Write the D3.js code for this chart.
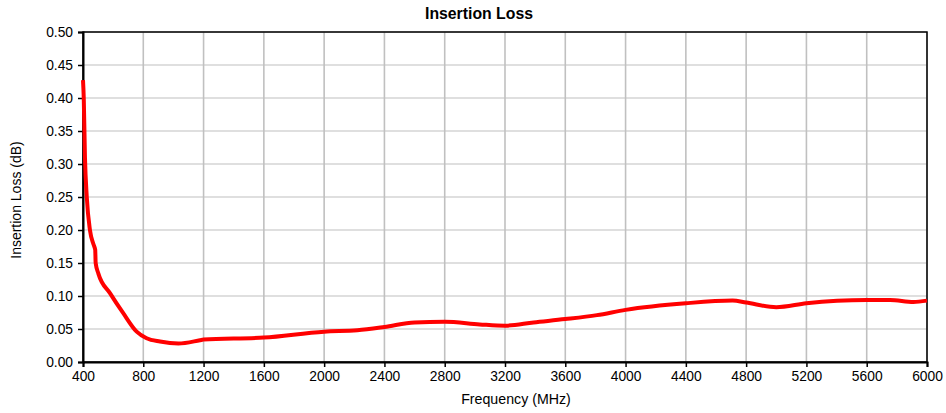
<!DOCTYPE html>
<html>
<head>
<meta charset="utf-8">
<script src="https://cdn.jsdelivr.net/npm/d3@7"></script>
<style>
  body { margin: 0; background: #fff; }
  svg { display: block; font-family: "Liberation Sans", Arial, sans-serif; }
</style>
</head>
<body>
<svg id="chart" width="946" height="413"></svg>
<script>
// Insertion loss curve
const freqMHz = [400, 405, 413, 425, 446, 470, 481, 484, 502, 580, 667, 756, 822, 911, 1033, 1176, 1200, 1600, 2000, 2220, 2400, 2600, 2800, 3032, 3200, 3390, 3600, 3810, 4000, 4400, 4710, 4800, 5000, 5200, 5600, 5755, 5910, 6000];
const lossDb  = [0.427, 0.40, 0.31, 0.25, 0.20, 0.178, 0.170, 0.150, 0.134, 0.104, 0.074, 0.046, 0.036, 0.031, 0.028, 0.033, 0.034, 0.037, 0.046, 0.048, 0.053, 0.060, 0.061, 0.057, 0.055, 0.060, 0.065, 0.071, 0.079, 0.089, 0.093, 0.090, 0.083, 0.089, 0.094, 0.094, 0.091, 0.093];

const xTicks = [400, 800, 1200, 1600, 2000, 2400, 2800, 3200, 3600, 4000, 4400, 4800, 5200, 5600, 6000];
const yTicks = [0, 0.05, 0.10, 0.15, 0.20, 0.25, 0.30, 0.35, 0.40, 0.45, 0.50];

const m = { left: 83, top: 32, right: 19, bottom: 51 };
const W = 946, H = 413;
const iw = W - m.left - m.right, ih = H - m.top - m.bottom;

const svg = d3.select("#chart");
const g = svg.append("g").attr("transform", `translate(${m.left},${m.top})`);

const x = d3.scaleLinear().domain([400, 6000]).range([0, iw]);
const y = d3.scaleLinear().domain([0, 0.5]).range([ih, 0]);

// grid
g.append("g").selectAll("line").data(yTicks).enter().append("line")
  .attr("x1", 0).attr("x2", iw)
  .attr("y1", d => y(d)).attr("y2", d => y(d))
  .attr("stroke", "#c0c0c0").attr("stroke-width", 1.2);
g.append("g").selectAll("line").data(xTicks).enter().append("line")
  .attr("y1", 0).attr("y2", ih)
  .attr("x1", d => x(d)).attr("x2", d => x(d))
  .attr("stroke", "#c0c0c0").attr("stroke-width", 1.6);

// frame
g.append("rect").attr("width", iw).attr("height", ih)
  .attr("fill", "none").attr("stroke", "#000").attr("stroke-width", 1.5);

// axes
const xAxis = g.append("g").attr("transform", `translate(0,${ih})`)
  .call(d3.axisBottom(x).tickValues(xTicks).tickFormat(d3.format("d")).tickSize(5).tickPadding(4));
const yAxis = g.append("g")
  .call(d3.axisLeft(y).tickValues(yTicks).tickFormat(d3.format(".2f")).tickSize(5).tickPadding(5));
[xAxis, yAxis].forEach(a => {
  a.select(".domain").attr("stroke", "#000").attr("stroke-width", 2);
  a.selectAll(".tick line").attr("stroke", "#000").attr("stroke-width", 1.5);
  a.selectAll("text").attr("font-size", 13.8).attr("fill", "#000")
    .attr("font-family", "'Liberation Sans', Arial, sans-serif");
});

// curve
const line = d3.line()
  .x((d, i) => x(freqMHz[i]))
  .y(d => y(d))
  .curve(d3.curveMonotoneX);
g.append("path").datum(lossDb)
  .attr("d", line)
  .attr("fill", "none")
  .attr("stroke", "#ff0000")
  .attr("stroke-width", 4)
  .attr("stroke-linejoin", "round");

// titles
svg.append("text").attr("x", 479).attr("y", 19)
  .attr("text-anchor", "middle").attr("font-size", 15.8).attr("font-weight", "bold")
  .text("Insertion Loss");
svg.append("text").attr("x", 516).attr("y", 404)
  .attr("text-anchor", "middle").attr("font-size", 14.2)
  .text("Frequency (MHz)");
svg.append("text")
  .attr("transform", `translate(21,200) rotate(-90)`)
  .attr("text-anchor", "middle").attr("font-size", 14)
  .text("Insertion Loss (dB)");
</script>
</body>
</html>
